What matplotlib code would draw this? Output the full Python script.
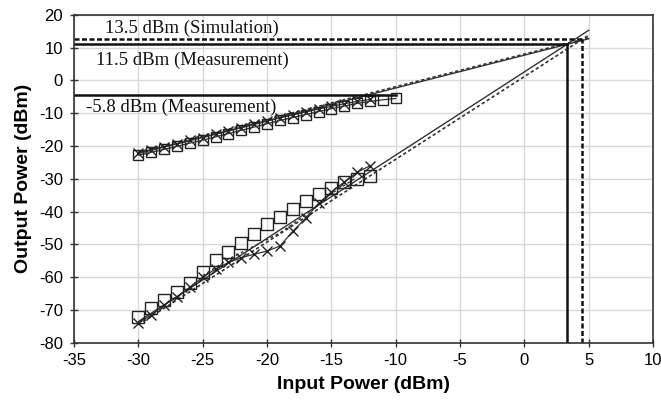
import matplotlib
matplotlib.use("Agg")
import matplotlib.pyplot as plt
import numpy as np

plt.rcParams["axes.unicode_minus"] = False

# ---------------- data ----------------
pin_fund_sq = list(range(-30, -9))          # -30 .. -10
pout_fund_sq = [-22.8, -21.9, -21.0, -20.1, -19.1, -18.2, -17.2, -16.2, -15.2, -14.2,
                -13.2, -12.2, -11.3, -10.4, -9.5, -8.6, -7.8, -7.0, -6.4, -5.9, -5.5]

pin_fund_x = list(range(-30, -11))           # -30 .. -12
pout_fund_x = [-22.0, -21.1, -20.2, -19.3, -18.3, -17.4, -16.4, -15.4, -14.4, -13.4,
               -12.4, -11.4, -10.5, -9.6, -8.7, -7.9, -7.1, -6.4, -5.8]

pin_im3_sq = list(range(-30, -11))           # -30 .. -12
pout_im3_sq = [-72.0, -69.3, -66.9, -64.6, -61.9, -58.3, -54.6, -52.3, -49.6, -46.8,
               -43.9, -41.5, -39.2, -36.9, -34.6, -32.8, -31.1, -30.1, -29.0]

pin_im3_x = list(range(-30, -11))
pout_im3_x = [-74.0, -71.5, -68.5, -66.0, -63.0, -60.0, -57.5, -55.5, -54.0, -53.0,
              -52.0, -50.5, -46.0, -42.0, -37.5, -34.0, -31.0, -28.0, -26.0]

# extrapolated fit lines (start / end points)
fund_meas_line_x = [-30, 5]
fund_meas_line_y = [-22.3, 12.7]
fund_sim_line_x = [-30, 5]
fund_sim_line_y = [-21.8, 13.0]
im3_meas_line_x = [-30, 5]
im3_meas_line_y = [-73.5, 15.3]
im3_sim_line_x = [-30, 5]
im3_sim_line_y = [-74.5, 13.8]

# IM3 simulated curve (dotted)
im3_sim_curve_x = [-25, -23, -21, -19, -17, -15, -13]
im3_sim_curve_y = [-59.5, -54.5, -50.5, -46.5, -41.0, -34.5, -29.5]

# intercept markers
oip3_meas = 11.0
oip3_sim = 12.6
iip3_meas = 3.3
iip3_sim = 4.5
p1db_level = -4.3
p1db_end = -10

labels = ["13.5 dBm (Simulation)", "11.5 dBm (Measurement)", "-5.8 dBm (Measurement)"]

xticks = list(range(-35, 11, 5))
yticks = list(range(-80, 21, 10))

# ---------------- plot ----------------
fig = plt.figure(figsize=(6.61, 4.01), dpi=100)
ax = fig.add_axes([0.112, 0.145, 0.876, 0.818])

ax.set_xlim(-35, 10)
ax.set_ylim(-80, 20)
ax.set_xticks(xticks)
ax.set_yticks(yticks)
ax.grid(True, color="#d8d8d8", linewidth=1.0)
ax.set_axisbelow(True)
for s in ax.spines.values():
    s.set_color("#333333")
    s.set_linewidth(1.2)
ax.tick_params(direction="inout", length=6, width=1, color="#333333",
               labelsize=12)
ax.tick_params(axis="y", pad=5)
ax.tick_params(axis="x", pad=4)
for lab in ax.get_xticklabels() + ax.get_yticklabels():
    lab.set_fontfamily("Liberation Sans")

ax.set_xlabel("Input Power (dBm)", fontsize=14, fontweight="bold",
              fontfamily="Liberation Sans", labelpad=6)
ax.set_ylabel("Output Power (dBm)", fontsize=14, fontweight="bold",
              fontfamily="Liberation Sans", labelpad=5)

lc = "#333333"
# fit lines
ax.plot(fund_meas_line_x, fund_meas_line_y, color=lc, lw=1.0)
ax.plot(fund_sim_line_x, fund_sim_line_y, color=lc, lw=1.2, ls=(0, (2, 1.5)))
ax.plot(im3_meas_line_x, im3_meas_line_y, color=lc, lw=1.0)
ax.plot(im3_sim_line_x, im3_sim_line_y, color=lc, lw=1.2, ls=(0, (2, 1.5)))
ax.plot(im3_sim_curve_x, im3_sim_curve_y, color=lc, lw=1.0, ls=(0, (2, 2)))

# data
ax.plot(pin_fund_x, pout_fund_x, color=lc, lw=0.9, marker="x", ms=7, mew=1.0, mec="#222222")
ax.plot(pin_fund_sq, pout_fund_sq, color=lc, lw=0.9, marker="s", ms=7, mfc="none",
        mew=1.0, mec="#222222")
ax.plot(pin_im3_x, pout_im3_x, color=lc, lw=0.9, marker="x", ms=7, mew=1.0, mec="#222222")
ax.plot(pin_im3_sq, pout_im3_sq, ls="none", marker="s", ms=8, mfc="none",
        mew=1.0, mec="#222222")

# intercept lines
ax.plot([-35, iip3_sim], [oip3_sim, oip3_sim], color="#111111", lw=1.8, ls=(0, (2, 1)))
ax.plot([iip3_sim, iip3_sim], [-80, oip3_sim], color="#111111", lw=1.8, ls=(0, (2, 1)))
ax.plot([-35, iip3_meas], [oip3_meas, oip3_meas], color="#111111", lw=1.8)
ax.plot([iip3_meas, iip3_meas], [-80, oip3_meas], color="#111111", lw=1.8)
ax.plot([-35, p1db_end], [p1db_level, p1db_level], color="#111111", lw=1.8)

tf = dict(fontfamily="Liberation Serif", fontsize=13.5, color="#111111")
ax.text(-32.6, 15.8, labels[0], ha="left", va="center", **tf)
ax.text(-33.3, 6.0, labels[1], ha="left", va="center", **tf)
ax.text(-34.1, -8.3, labels[2], ha="left", va="center", **tf)

fig.savefig("out.png", dpi=100)
